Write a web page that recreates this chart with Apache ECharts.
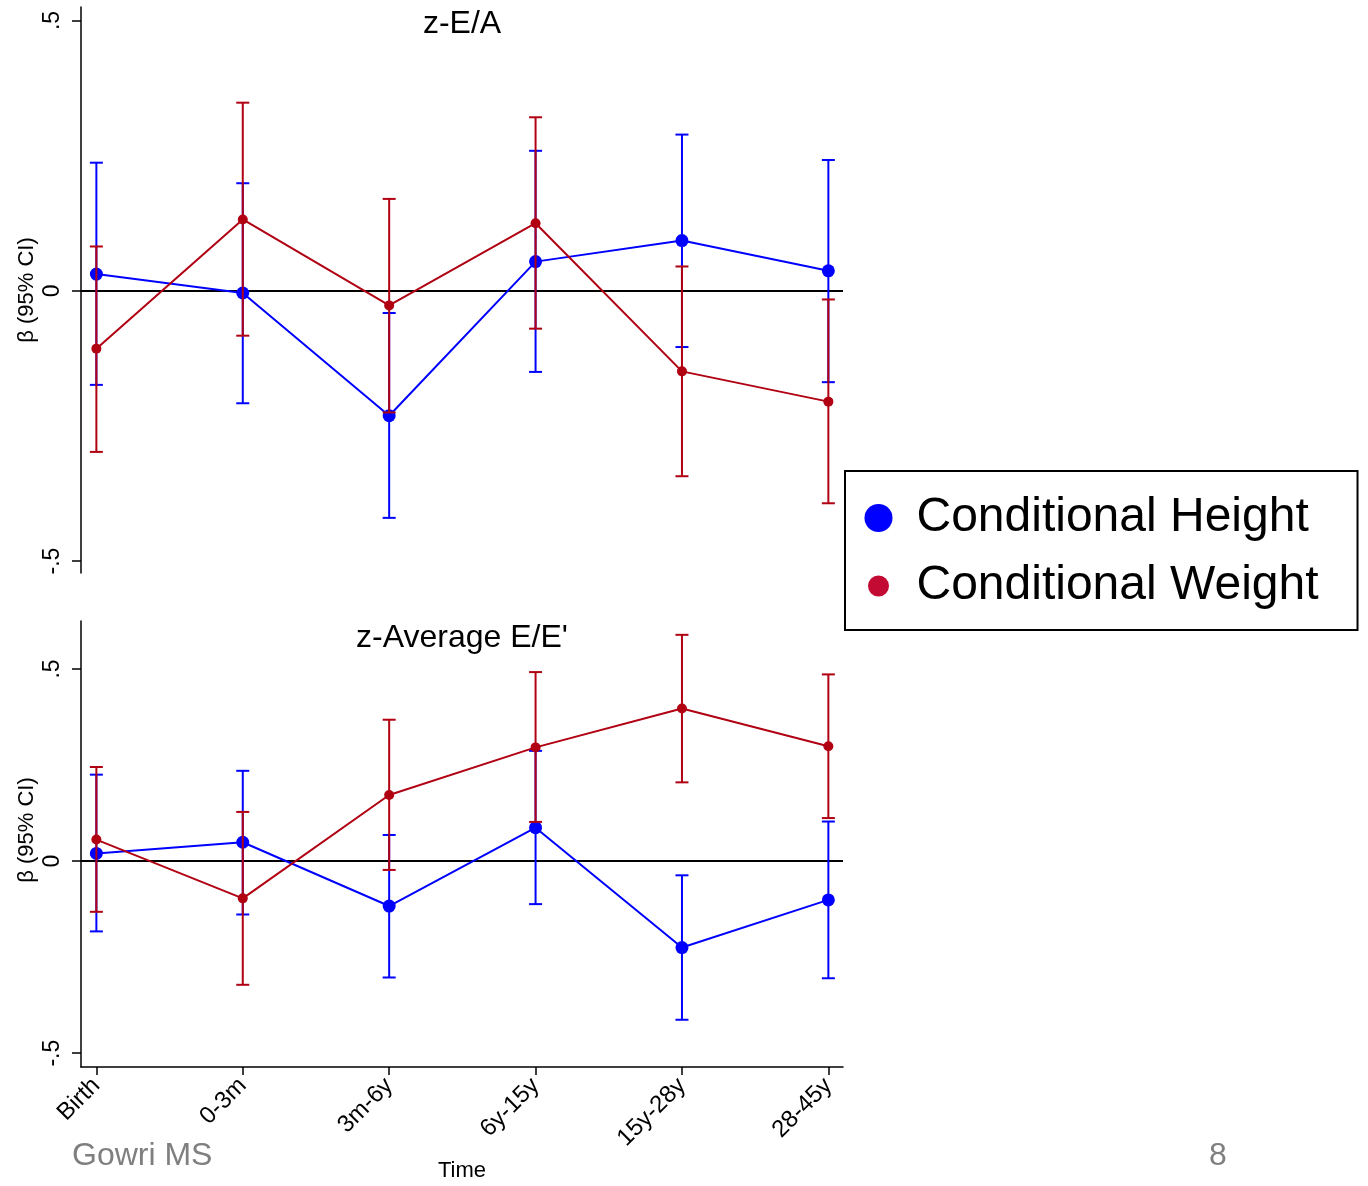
<!DOCTYPE html>
<html><head><meta charset="utf-8">
<script src="https://cdn.jsdelivr.net/npm/echarts@6/dist/echarts.min.js"></script>
<style>html,body{margin:0;padding:0;background:#fff}#chart{width:1368px;height:1186px}</style>
</head><body><div id="chart"></div>
<script>
// ---------- data ----------
const categories = ['Birth', '0-3m', '3m-6y', '6y-15y', '15y-28y', '28-45y'];
const yTickValues = [-0.5, 0, 0.5];
const yTickLabels = ['-.5', '0', '.5'];

// Panel 1: z-E/A
const heightEA    = [0.031, -0.004, -0.231, 0.054, 0.093, 0.037];
const heightEA_lo = [-0.174, -0.208, -0.420, -0.150, -0.104, -0.169];
const heightEA_hi = [0.237, 0.199, -0.041, 0.259, 0.289, 0.242];
const weightEA    = [-0.107, 0.132, -0.027, 0.125, -0.149, -0.205];
const weightEA_lo = [-0.298, -0.083, -0.225, -0.070, -0.343, -0.393];
const weightEA_hi = [0.082, 0.348, 0.170, 0.321, 0.045, -0.016];

// Panel 2: z-Average E/E'
const heightEE    = [0.020, 0.049, -0.117, 0.087, -0.225, -0.101];
const heightEE_lo = [-0.183, -0.139, -0.303, -0.112, -0.413, -0.305];
const heightEE_hi = [0.225, 0.235, 0.068, 0.287, -0.037, 0.103];
const weightEE    = [0.056, -0.097, 0.172, 0.296, 0.397, 0.299];
const weightEE_lo = [-0.132, -0.322, -0.023, 0.102, 0.205, 0.112];
const weightEE_hi = [0.245, 0.128, 0.368, 0.492, 0.589, 0.486];

// ---------- styling ----------
const FONT = '"Liberation Sans", Arial, sans-serif';
const BLUE = '#0000ff';
const RED = '#b00012';
const LEG_RED = '#c20a33';
const xIdx = categories.map((c, i) => i);

function pts(vals) { return vals.map((v, i) => [i, v]); }
function ci(lo, hi) { return lo.map((l, i) => [i, l, hi[i]]); }

function errRender(color) {
  return function (params, api) {
    const x = api.value(0);
    const lo = api.coord([x, api.value(1)]);
    const hi = api.coord([x, api.value(2)]);
    const w = 6.5;
    const style = { stroke: color, lineWidth: 2 };
    return {
      type: 'group', children: [
        { type: 'line', shape: { x1: lo[0], y1: lo[1], x2: hi[0], y2: hi[1] }, style },
        { type: 'line', shape: { x1: lo[0] - w, y1: lo[1], x2: lo[0] + w, y2: lo[1] }, style },
        { type: 'line', shape: { x1: hi[0] - w, y1: hi[1], x2: hi[0] + w, y2: hi[1] }, style }
      ]
    };
  };
}

function yAxisFor(grid, min, max, namePad) {
  return {
    type: 'value', gridIndex: grid, min: min, max: max,
    axisLine: { show: true, onZero: false, lineStyle: { color: '#000', width: 1.5 } },
    axisTick: { show: true, customValues: yTickValues, length: 9, lineStyle: { color: '#000', width: 1.5 } },
    axisLabel: {
      customValues: yTickValues, rotate: 90, margin: 17,
      formatter: v => yTickLabels[yTickValues.indexOf(Math.round(v * 10) / 10)],
      fontSize: 23, fontFamily: FONT, color: '#000'
    },
    splitLine: { show: false },
    name: 'β (95% CI)', nameLocation: 'middle', nameGap: 43, nameRotate: 90,
    nameMoveOverlap: false,
    nameTextStyle: { fontSize: 22, fontFamily: FONT, color: '#000', padding: namePad }
  };
}

function panelSeries(idx, h, hlo, hhi, w, wlo, whi) {
  return [
    {
      type: 'custom', xAxisIndex: idx, yAxisIndex: idx, renderItem: errRender(BLUE),
      data: ci(hlo, hhi), encode: { x: 0, y: [1, 2] }, z: 2, silent: true,
      markLine: {
        silent: true, symbol: ['none', 'none'], z: 1, label: { show: false },
        lineStyle: { color: '#000', width: 2, type: 'solid' }, data: [{ yAxis: 0 }]
      }
    },
    {
      type: 'line', name: 'Conditional Height', xAxisIndex: idx, yAxisIndex: idx,
      data: pts(h), symbol: 'circle', symbolSize: 13, z: 3,
      lineStyle: { color: BLUE, width: 2 }, itemStyle: { color: BLUE }
    },
    {
      type: 'custom', xAxisIndex: idx, yAxisIndex: idx, renderItem: errRender(RED),
      data: ci(wlo, whi), encode: { x: 0, y: [1, 2] }, z: 4, silent: true
    },
    {
      type: 'line', name: 'Conditional Weight', xAxisIndex: idx, yAxisIndex: idx,
      data: pts(w), symbol: 'circle', symbolSize: 10, z: 5,
      lineStyle: { color: RED, width: 2 }, itemStyle: { color: RED }
    }
  ];
}

const chart = echarts.init(document.getElementById('chart'), null, { renderer: 'canvas' });
chart.setOption({
  backgroundColor: '#fff',
  animation: false,
  title: [
    { text: 'z-E/A', left: 462, top: 8, textAlign: 'center', padding: 0,
      textStyle: { fontSize: 32, fontWeight: 'normal', fontFamily: FONT, color: '#000' } },
    { text: "z-Average E/E'", left: 462, top: 622, textAlign: 'center', padding: 0,
      textStyle: { fontSize: 32, fontWeight: 'normal', fontFamily: FONT, color: '#000' } }
  ],
  grid: [
    { left: 81, top: 7, width: 762, height: 566 },
    { left: 81, top: 621, width: 762, height: 446 }
  ],
  xAxis: [
    { type: 'value', gridIndex: 0, min: -0.105, max: 5.1, show: false },
    {
      type: 'value', gridIndex: 1, min: -0.105, max: 5.1,
      axisLine: { show: true, onZero: false, lineStyle: { color: '#000', width: 1.5 } },
      axisTick: { show: true, customValues: xIdx, length: 8, lineStyle: { color: '#000', width: 1.5 } },
      axisLabel: {
        customValues: xIdx, rotate: 45, margin: 15,
        formatter: v => categories[Math.round(v)],
        fontSize: 24, fontFamily: FONT, color: '#000'
      },
      splitLine: { show: false },
      name: 'Time', nameLocation: 'middle', nameGap: 93, nameMoveOverlap: false,
      nameTextStyle: { fontSize: 22, fontFamily: FONT, color: '#000' }
    }
  ],
  yAxis: [
    yAxisFor(0, -0.522, 0.525, [0, 0, 0, 0]),
    yAxisFor(1, -0.536, 0.625, [0, 0, 0, 28])
  ],
  legend: {
    left: 845, top: 471, orient: 'vertical', selectedMode: false,
    padding: [23, 39, 20, 16], itemGap: 20, itemWidth: 28, itemHeight: 28,
    borderColor: '#000', borderWidth: 2, backgroundColor: '#fff',
    textStyle: { fontSize: 48, fontFamily: FONT, color: '#000', lineHeight: 48, padding: [0, 0, 0, 19] },
    data: [
      { name: 'Conditional Height', icon: 'circle', itemStyle: { color: BLUE } },
      { name: 'Conditional Weight', icon: 'circle', itemStyle: { color: LEG_RED, borderColor: '#fff', borderWidth: 7 } }
    ]
  },
  graphic: [
    { type: 'text', left: 72, top: 1140, style: { text: 'Gowri MS', fontSize: 32, fontFamily: FONT, fill: '#7f7f7f' } },
    { type: 'text', left: 1209, top: 1140, style: { text: '8', fontSize: 32, fontFamily: FONT, fill: '#7f7f7f' } }
  ],
  series: [].concat(
    panelSeries(0, heightEA, heightEA_lo, heightEA_hi, weightEA, weightEA_lo, weightEA_hi),
    panelSeries(1, heightEE, heightEE_lo, heightEE_hi, weightEE, weightEE_lo, weightEE_hi)
  )
});
</script>
</body></html>
